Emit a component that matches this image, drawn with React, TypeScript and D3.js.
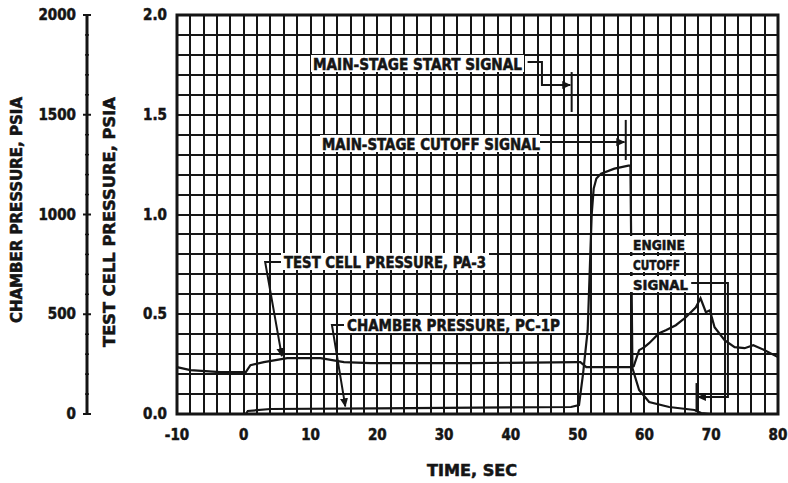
import React from 'react';
import * as d3 from 'd3';

// test cell pressure, PA-3 (psia)
const cellTime = [-10, -8, -3.5, 0.3, 1, 3, 6.5, 11.5, 15, 19, 34, 50, 50.4, 51.3, 58, 58.4, 59.2, 60, 60.7, 62.2, 63.2, 64.7, 66.2, 67.7, 68.4, 69.2, 69.8, 70.5, 72, 73.5, 75, 76.3, 78, 80];
const cellPsia = [0.235, 0.22, 0.21, 0.21, 0.245, 0.26, 0.28, 0.28, 0.26, 0.255, 0.255, 0.26, 0.26, 0.235, 0.235, 0.24, 0.32, 0.335, 0.355, 0.405, 0.42, 0.445, 0.485, 0.535, 0.58, 0.51, 0.52, 0.435, 0.37, 0.335, 0.33, 0.345, 0.32, 0.285];

// chamber pressure, PC-1P (psia)
const chamberTime = [-10, 0.3, 0.6, 4, 20, 49, 50.2, 50.8, 51.5, 52.1, 52.4, 52.8, 53.5, 55.5, 57.6, 57.9, 58.2, 59.2, 60.7, 63.7, 67.5, 68.5, 70, 80];
const chamberPsia = [0, 0, 15, 25, 28, 35, 45, 200, 420, 1000, 1130, 1180, 1205, 1230, 1245, 1245, 230, 120, 60, 35, 20, 5, 0, 0];

const timeTicks = [-10, 0, 10, 20, 30, 40, 50, 60, 70, 80];
const cellTicks = [0, 0.5, 1, 1.5, 2];
const chamberTicks = [0, 500, 1000, 1500, 2000];

// signal times (sec)
const startSignal = 49.1;
const mainCutoffSignal = 57.2;
const engineCutoffSignal = 67.8;

const FONT = "'DejaVu Sans Condensed','Liberation Sans Narrow','DejaVu Sans',sans-serif";
const INK = '#151515';

const x = d3.scaleLinear().domain([-10, 80]).range([177, 778]);
const yCell = d3.scaleLinear().domain([0, 2]).range([414, 15]);
const yCh = d3.scaleLinear().domain([0, 2000]).range([414, 15]);

function Label({ x, y, w, size = 14, anchor = 'start', rotate = false, children }: any) {
  return (
    <text
      x={x}
      y={y}
      fontSize={size}
      fontWeight="bold"
      textAnchor={anchor}
      textLength={w}
      lengthAdjust="spacingAndGlyphs"
      transform={rotate ? `rotate(-90 ${x} ${y})` : undefined}
    >
      {children}
    </text>
  );
}

export default function App() {
  const cellLine = d3.line<number>().x((_, i) => x(cellTime[i])).y(d => yCell(d));
  const chamberLine = d3.line<number>().x((_, i) => x(chamberTime[i])).y(d => yCh(d));
  const path = (pts: [number, number][]) => d3.line()(pts.map(([t, v]) => [x(t), yCell(v)]));

  const vGrid = d3.range(-8, 80, 2);
  const hGrid = d3.range(1, 20).map(i => i / 10);
  const minorCh = d3.range(100, 2000, 100).filter(v => v % 500 !== 0);

  return (
    <svg width={788} height={483} style={{ position: 'absolute', left: 0, top: 0, background: '#fff' }}
      fontFamily={FONT} fill={INK} stroke={INK} strokeWidth={0.5}>
      <defs>
        <marker id="arr" viewBox="0 0 10 10" refX="9" refY="5" markerWidth="4.5" markerHeight="4.5" orient="auto">
          <path d="M0,0.5L10,5L0,9.5z" fill={INK} stroke="none" />
        </marker>
      </defs>

      {/* grid */}
      <g stroke={INK} strokeWidth={2} shapeRendering="crispEdges">
        {vGrid.map(t => <line key={'v' + t} x1={x(t)} x2={x(t)} y1={yCell(2)} y2={yCell(0)} />)}
        {hGrid.map(v => <line key={'h' + v} x1={x(-10)} x2={x(80)} y1={yCell(v)} y2={yCell(v)} />)}
      </g>
      <rect x={x(-10)} y={yCell(2)} width={x(80) - x(-10)} height={yCell(0) - yCell(2)} fill="none" stroke={INK} strokeWidth={3} />

      {/* data */}
      <path d={cellLine(cellPsia) || ''} fill="none" stroke={INK} strokeWidth={2.2} />
      <path d={chamberLine(chamberPsia) || ''} fill="none" stroke={INK} strokeWidth={2.2} />

      {/* x axis labels */}
      {timeTicks.map(t => (
        <text key={t} x={x(t)} y={440} fontSize={15} fontWeight="bold" textAnchor="middle">{t}</text>
      ))}
      <Label x={427} y={476} w={90} size={15}>TIME, SEC</Label>

      {/* test cell axis labels */}
      {cellTicks.map(v => (
        <text key={v} x={167} y={yCell(v) + 5} fontSize={15} fontWeight="bold" textAnchor="end">{v.toFixed(1)}</text>
      ))}
      <Label x={115} y={222} w={250} size={15} anchor="middle" rotate>TEST CELL PRESSURE, PSIA</Label>

      {/* chamber pressure axis */}
      <g stroke={INK}>
        <line x1={87} x2={87} y1={yCh(2000)} y2={yCh(0)} strokeWidth={3} />
        {chamberTicks.map(v => <line key={v} x1={83} x2={91} y1={yCh(v)} y2={yCh(v)} strokeWidth={2} />)}
        {minorCh.map(v => <line key={v} x1={85} x2={89} y1={yCh(v)} y2={yCh(v)} strokeWidth={1.5} />)}
      </g>
      {chamberTicks.map(v => (
        <text key={v} x={76} y={yCh(v) + 5} fontSize={15} fontWeight="bold" textAnchor="end">{v}</text>
      ))}
      <Label x={22} y={210} w={226} size={15} anchor="middle" rotate>CHAMBER PRESSURE, PSIA</Label>

      {/* annotations */}
      <g fill="none" stroke={INK} strokeWidth={2}>
        {/* main-stage start */}
        <path d={path([[42.5, 1.764], [44.65, 1.764], [44.65, 1.649], [48.9, 1.649]]) || ''} markerEnd="url(#arr)" />
        <line x1={x(startSignal)} x2={x(startSignal)} y1={yCell(1.714)} y2={yCell(1.514)} />
        {/* main-stage cutoff */}
        <path d={path([[44.3, 1.363], [57.0, 1.363]]) || ''} markerEnd="url(#arr)" />
        <line x1={x(mainCutoffSignal)} x2={x(mainCutoffSignal)} y1={yCell(1.474)} y2={yCell(1.273)} />
        {/* test cell pressure */}
        <path d={path([[5.9, 0.762], [3.2, 0.762], [5.7, 0.29]]) || ''} markerEnd="url(#arr)" />
        {/* chamber pressure */}
        <path d={path([[15.3, 0.446], [13.2, 0.446], [15.2, 0.038]]) || ''} markerEnd="url(#arr)" />
        {/* engine cutoff */}
        <path d={path([[67.0, 0.657], [72.5, 0.657], [72.5, 0.085], [68.0, 0.085]]) || ''} markerEnd="url(#arr)" />
        <line x1={x(engineCutoffSignal)} x2={x(engineCutoffSignal)} y1={yCell(0.155)} y2={yCell(0.01)} />
      </g>

      <g>
        <rect x={311} y={55} width={213} height={17} fill="#fff" stroke="none" />
        <Label x={313} y={70} w={209} size={15}>MAIN-STAGE START SIGNAL</Label>
        <rect x={320} y={135} width={220} height={17} fill="#fff" stroke="none" />
        <Label x={322} y={150} w={218} size={15}>MAIN-STAGE CUTOFF SIGNAL</Label>
        <rect x={281} y={253} width={208} height={17} fill="#fff" stroke="none" />
        <Label x={284} y={268} w={202} size={15}>TEST CELL PRESSURE, PA-3</Label>
        <rect x={344} y={316} width={218} height={17} fill="#fff" stroke="none" />
        <Label x={347} y={331} w={213} size={15}>CHAMBER PRESSURE, PC-1P</Label>
        <rect x={630} y={236} width={58} height={16} fill="#fff" stroke="none" />
        <rect x={630} y={256} width={53} height={16} fill="#fff" stroke="none" />
        <rect x={630} y={276} width={60} height={16} fill="#fff" stroke="none" />
        <Label x={633} y={250} w={52} size={14}>ENGINE</Label>
        <Label x={633} y={270} w={47} size={14}>CUTOFF</Label>
        <Label x={633} y={290} w={55} size={14}>SIGNAL</Label>
      </g>
    </svg>
  );
}
